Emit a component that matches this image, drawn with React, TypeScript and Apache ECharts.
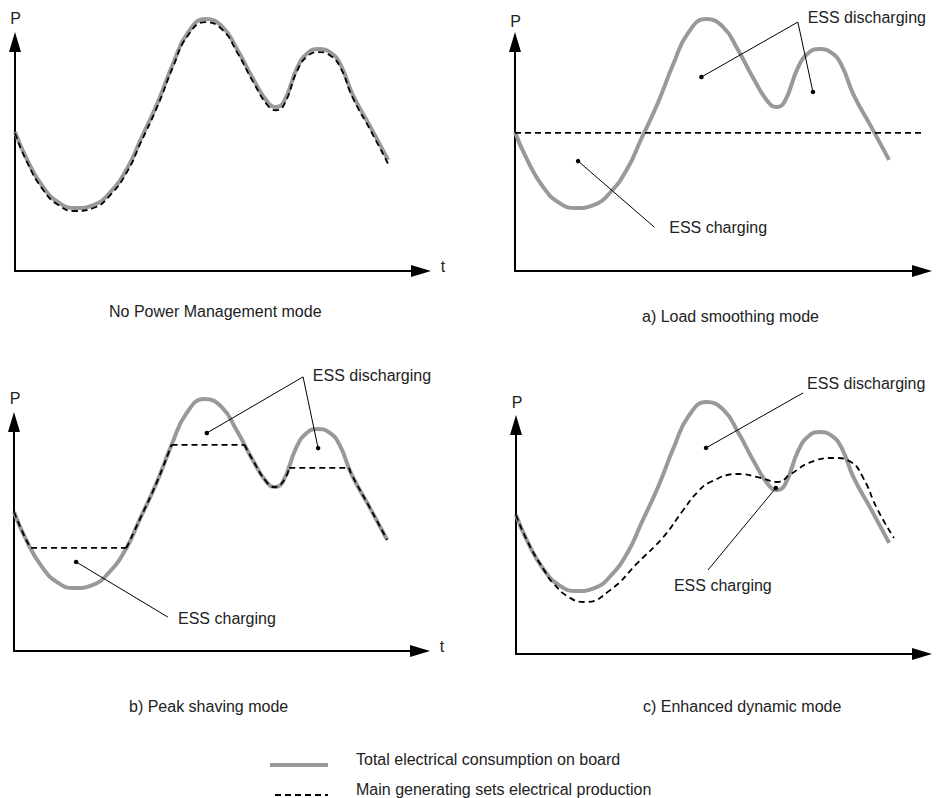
import React, { useEffect, useRef } from 'react';
import * as echarts from 'echarts';

// ---- data (abstract units: time 0..100 across each axis, power 0..100 up the axis) ----
const timeSteps = [0, 3.0, 6.9, 10.6, 14.8, 19.3, 23.5, 27.7, 30.9, 35.1, 39.0, 42.5, 46.9, 51.1, 54.8, 58.8, 62.2, 64.2, 66.2, 69.6, 72.1, 74.8, 77.8, 80.2, 83.2, 87.7, 91.9];
const totalConsumption = [60.7, 48.5, 36.7, 30.1, 27.5, 28.8, 34.5, 45.0, 57.2, 73.4, 90.8, 103.9, 110.0, 106.6, 96.5, 83.4, 73.8, 71.6, 73.8, 89.1, 95.2, 96.9, 95.2, 90.0, 76.9, 62.4, 48.5];

// No power management: generation tracks the load
const noPmProduction = [60.2, 47.4, 35.5, 28.9, 26.2, 27.5, 33.2, 43.6, 55.8, 72.0, 89.5, 102.6, 108.7, 105.3, 95.2, 82.1, 72.4, 70.2, 72.4, 87.8, 93.9, 95.6, 93.9, 88.7, 75.6, 61.0, 46.8];

// a) Load smoothing: constant generation
const loadSmoothingTime = [0, 102.5];
const loadSmoothingProduction = [60.3, 60.3];

// b) Peak shaving: follow the load, clipped at three levels
const peakShavingSegments = [
  [[0, 60.7], [3.0, 48.5], [4.2, 45.0]],
  [[4.2, 45.0], [27.7, 45.0]],
  [[27.7, 45.0], [30.9, 57.2], [35.1, 73.4], [38.8, 90.0]],
  [[38.8, 90.0], [56.8, 90.0]],
  [[56.8, 90.0], [58.8, 83.4], [62.2, 73.8], [64.2, 71.6], [66.2, 73.8], [67.8, 80.0]],
  [[67.8, 80.0], [82.5, 80.0]],
  [[82.5, 80.0], [83.2, 76.9], [87.7, 62.4], [91.9, 48.5]],
];

// c) Enhanced dynamic mode
const enhancedTime = [0, 3.0, 6.9, 9.1, 13.3, 17.0, 23.2, 29.9, 36.3, 41.2, 44.7, 47.9, 54.6, 60.2, 64.4, 67.7, 72.6, 78.3, 82.5, 85.4, 89.1, 93.1];
const enhancedProduction = [60.7, 48.5, 36.7, 31.0, 24.5, 22.7, 27.9, 39.7, 51.1, 62.9, 70.7, 75.1, 78.6, 76.9, 75.1, 78.6, 83.8, 85.6, 83.8, 77.3, 62.9, 50.7];

// annotations (in data units of each panel)
const annotations = [
  { panel: 1, text: 'ESS discharging', at: [71.9, 110.5], from: [69.5, 108.7], to: [[45.8, 84.7], [73.2, 78.2]] },
  { panel: 1, text: 'ESS charging', at: [37.9, 18.8], from: [34.2, 19.2], to: [[15.5, 48.0]] },
  { panel: 2, text: 'ESS discharging', at: [73.6, 120.5], from: [71.2, 119.7], to: [[47.5, 95.2], [74.9, 88.6]] },
  { panel: 2, text: 'ESS charging', at: [40.4, 14.4], from: [37.9, 14.8], to: [[15.3, 38.9]] },
  { panel: 3, text: 'ESS discharging', at: [71.7, 118.3], from: [70.7, 114.0], to: [[46.8, 90.0]] },
  { panel: 3, text: 'ESS charging', at: [38.9, 29.7], from: [47.3, 36.7], to: [[64.0, 72.5]] },
];

const panelTitles = ['No Power Management mode', 'a) Load smoothing mode', 'b) Peak shaving mode', 'c) Enhanced dynamic mode'];
const legendLabels = ['Total electrical consumption on board', 'Main generating sets electrical production'];

const FONT = "'Liberation Sans', Arial, Helvetica, sans-serif";
const TEXT = '#222';
const GRAY = '#999';

// layout of the four panels (pixels)
const panels = [
  { left: 15, top: 42, width: 406, height: 229, title: [109, 311], p: [15.5, 18.5], t: [443, 266] },
  { left: 515, top: 42, width: 407, height: 229, title: [642, 316], p: [515.5, 21], t: null },
  { left: 14, top: 422, width: 406, height: 229, title: [129, 706], p: [15, 398], t: [442, 646] },
  { left: 516, top: 425, width: 406, height: 229, title: [643, 706], p: [517, 402], t: null },
];

const zip = (xs: number[], ys: number[]) => xs.map((x, i) => [x, ys[i]]);

function buildOption() {
  const grid = panels.map((p) => ({ left: p.left, top: p.top, width: p.width, height: p.height, containLabel: false }));
  const axisLine = {
    show: true,
    onZero: false,
    symbol: ['none', 'triangle'],
    symbolSize: [12, 20],
    lineStyle: { color: '#000', width: 2 },
  };
  const xAxis = panels.map((_, i) => ({
    type: 'value', gridIndex: i, min: 0, max: 100,
    axisLine, axisTick: { show: false }, axisLabel: { show: false }, splitLine: { show: false },
  }));
  const yAxis = panels.map((_, i) => ({
    type: 'value', gridIndex: i, min: 0, max: 100,
    axisLine, axisTick: { show: false }, axisLabel: { show: false }, splitLine: { show: false },
  }));

  const series: any[] = [];
  const grayLine = (i: number) => ({
    type: 'line', xAxisIndex: i, yAxisIndex: i, data: zip(timeSteps, totalConsumption),
    smooth: true, symbol: 'none', clip: false, silent: true, z: 2,
    lineStyle: { color: GRAY, width: 4 },
  });
  const dashed = (i: number, data: number[][], smooth = true) => ({
    type: 'line', xAxisIndex: i, yAxisIndex: i, data, smooth, symbol: 'none', clip: false, silent: true, z: 3,
    lineStyle: { color: '#000', width: 1.8, type: [6, 4] },
  });

  for (let i = 0; i < 4; i++) series.push(grayLine(i));
  series.push(dashed(0, zip(timeSteps, noPmProduction)));
  series.push(dashed(1, zip(loadSmoothingTime, loadSmoothingProduction), false));
  peakShavingSegments.forEach((seg) => series.push(dashed(2, seg, seg.length > 2)));
  series.push(dashed(3, zip(enhancedTime, enhancedProduction)));

  annotations.forEach((a) => {
    const pts: any[] = [];
    if (a.to.length === 2) {
      pts.push({ value: a.to[0] });
      pts.push({ value: a.from, symbol: 'none' });
      pts.push({ value: a.to[1] });
    } else {
      pts.push({ value: a.from, symbol: 'none' });
      pts.push({ value: a.to[0] });
    }
    series.push({
      type: 'line', xAxisIndex: a.panel, yAxisIndex: a.panel, data: pts, smooth: false,
      symbol: 'circle', symbolSize: 4.5, showSymbol: true, clip: false, silent: true, z: 4,
      itemStyle: { color: '#000', opacity: 1 }, lineStyle: { color: '#000', width: 1 },
    });
    series.push({
      type: 'scatter', xAxisIndex: a.panel, yAxisIndex: a.panel, clip: false, silent: true, z: 5,
      symbolSize: 0, itemStyle: { opacity: 1 }, data: [{ name: a.text, value: a.at }],
      label: { show: true, position: 'right', distance: 0, formatter: '{b}', fontSize: 16, color: TEXT, opacity: 1, fontFamily: FONT },
    });
  });

  const graphic: any[] = [];
  panels.forEach((p, i) => {
    graphic.push({ type: 'text', x: p.title[0], y: p.title[1], silent: true,
      style: { text: panelTitles[i], fontSize: 16, fontFamily: FONT, fill: TEXT, align: 'left', verticalAlign: 'middle' } });
    graphic.push({ type: 'text', x: p.p[0], y: p.p[1], silent: true,
      style: { text: 'P', fontSize: 16, fontFamily: FONT, fill: TEXT, align: 'center', verticalAlign: 'middle' } });
    if (p.t) graphic.push({ type: 'text', x: p.t[0], y: p.t[1], silent: true,
      style: { text: 't', fontSize: 16, fontFamily: FONT, fill: TEXT, align: 'center', verticalAlign: 'middle' } });
  });
  graphic.push({ type: 'line', silent: true, shape: { x1: 270, y1: 765, x2: 328, y2: 765 }, style: { stroke: GRAY, lineWidth: 4 } });
  graphic.push({ type: 'line', silent: true, shape: { x1: 275, y1: 795, x2: 328, y2: 795 }, style: { stroke: '#000', lineWidth: 1.8, lineDash: [6, 4] } });
  graphic.push({ type: 'text', x: 356, y: 759, silent: true,
    style: { text: legendLabels[0], fontSize: 16, fontFamily: FONT, fill: TEXT, align: 'left', verticalAlign: 'middle' } });
  graphic.push({ type: 'text', x: 356, y: 789, silent: true,
    style: { text: legendLabels[1], fontSize: 16, fontFamily: FONT, fill: TEXT, align: 'left', verticalAlign: 'middle' } });

  return {
    animation: false,
    backgroundColor: '#fff',
    textStyle: { fontFamily: FONT },
    grid, xAxis, yAxis, series, graphic,
  };
}

export default function App() {
  const ref = useRef<HTMLDivElement>(null);
  useEffect(() => {
    document.body.style.margin = '0';
    if (!ref.current) return;
    const chart = echarts.init(ref.current, undefined, { renderer: 'svg' });
    chart.setOption(buildOption() as any);
    return () => chart.dispose();
  }, []);
  return <div ref={ref} style={{ width: 940, height: 798 }} />;
}
